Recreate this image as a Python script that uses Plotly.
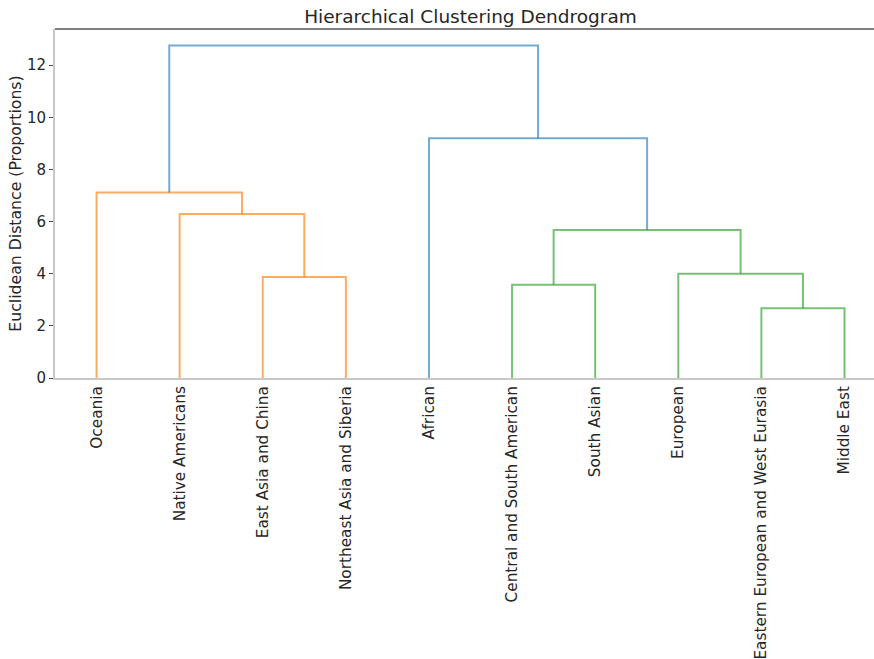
import plotly.graph_objects as go

# Leaf labels in dendrogram display order
labels = [
    "Oceania", "Native Americans", "East Asia and China", "Northeast Asia and Siberia",
    "African", "Central and South American", "South Asian", "European",
    "Eastern European and West Eurasia", "Middle East",
]

# Merges: (left child, right child, height, colour group)
# children < 10 are leaves; 10+ refer to earlier merges in this list
merge_left = [2, 8, 5, 7, 1, 12, 0, 4, 16]
merge_right = [3, 9, 6, 11, 10, 13, 14, 15, 17]
merge_height = [3.87, 2.68, 3.58, 4.00, 6.29, 5.68, 7.12, 9.20, 12.75]
merge_group = ["C1", "C2", "C2", "C2", "C1", "C2", "C1", "C0", "C0"]

palette = {
    "C0": "rgba(31,119,180,0.62)",
    "C1": "rgba(255,127,14,0.65)",
    "C2": "rgba(44,160,44,0.65)",
}

n = len(labels)
leaf_x = [5 + 10 * i for i in range(n)]
node_x = {i: leaf_x[i] for i in range(n)}
node_h = {i: 0.0 for i in range(n)}

fig = go.Figure()
for k, (a, b, h, g) in enumerate(zip(merge_left, merge_right, merge_height, merge_group)):
    xa, xb = node_x[a], node_x[b]
    fig.add_trace(go.Scatter(
        x=[xa, xa, xb, xb],
        y=[node_h[a], h, h, node_h[b]],
        mode="lines",
        line=dict(color=palette[g], width=2),
        hoverinfo="skip",
        showlegend=False,
    ))
    node_x[n + k] = (xa + xb) / 2
    node_h[n + k] = h

y_top = max(merge_height) * 1.05
font_family = "DejaVu Sans"

fig.update_layout(
    width=874, height=659,
    margin=dict(l=55, r=0, t=29, b=281),
    paper_bgcolor="white", plot_bgcolor="white",
    font=dict(family=font_family, size=15, color="#262626"),
    title=dict(
        text="Hierarchical Clustering Dendrogram",
        x=(55 + 886) / 2 / 874, xanchor="center",
        y=1 - 17 / 659, yanchor="middle",
        font=dict(size=18.5, color="#262626"),
    ),
    shapes=[dict(
        type="line", xref="paper", yref="paper",
        x0=0, x1=1, y0=1, y1=1,
        line=dict(color="#555555", width=1.5),
    )],
)

fig.update_xaxes(
    range=[0, 98.55],
    tickmode="array", tickvals=leaf_x, ticktext=labels,
    tickangle=-90, ticks="", showgrid=False, zeroline=False,
    showline=True, linecolor="#c8c8c8", linewidth=2,
    tickfont=dict(size=15.3, color="#262626"),
)
fig.update_yaxes(
    range=[0, y_top],
    tickmode="array", tickvals=[0, 2, 4, 6, 8, 10, 12],
    ticks="outside", ticklen=4, tickcolor="#444444", tickwidth=1,
    showgrid=False, zeroline=False,
    showline=True, linecolor="#c8c8c8", linewidth=2,
    tickfont=dict(size=15, color="#262626"),
    title=dict(text="Euclidean Distance (Proportions)", standoff=1,
               font=dict(size=15.7, color="#262626")),
)

fig.write_html("out.html")
